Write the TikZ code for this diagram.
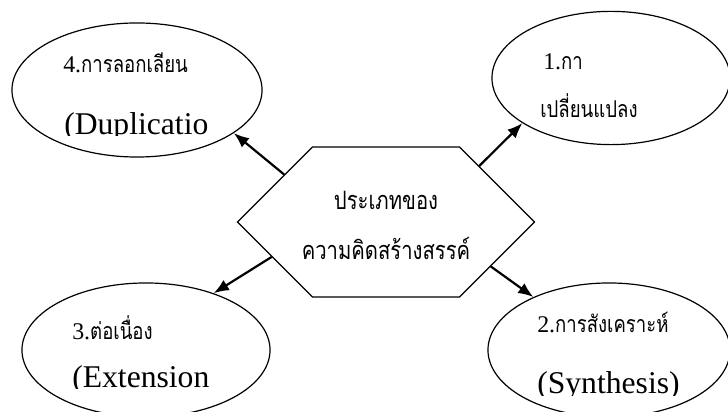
\documentclass[tikz,border=0pt]{standalone}
\usepackage{fontspec}
\setmainfont{Liberation Serif}
\newfontfamily\thaifont[Script=Thai,FakeStretch=0.8]{Loma}
\usetikzlibrary{shapes.geometric,shapes.symbols,arrows.meta}
\def\thai#1{{\thaifont\fontsize{16.5}{18}\selectfont #1}}

\tikzset{
  kind/.style={draw, ellipse, line width=0.3mm, minimum height=3.35cm, inner sep=0pt},
  core/.style={draw, signal, signal to=west and east, line width=0.3mm,
    minimum width=7.425cm, minimum height=3.75cm, inner sep=0pt},
  link/.style={line width=0.55mm, -{Latex[length=3.8mm,width=3mm]}},
  firstline/.style={anchor=base west, inner sep=0pt, font=\fontsize{17}{18}\selectfont},
  secondline/.style={anchor=base west, inner sep=0pt, font=\fontsize{22.5}{24}\selectfont},
  middleline/.style={anchor=base, inner sep=0pt, font=\thaifont\fontsize{18}{20}\selectfont},
}

\begin{document}
\begin{tikzpicture}[x=0.025cm,y=0.025cm]
		\useasboundingbox (0,0) rectangle (728,412);
		%%%%% START %%%%%
		
		\node[kind, minimum width=6.25cm] (dup) at (137,322) {};
		\node[kind, minimum width=5.95cm, minimum height=3.33cm] (change) at (611,334) {};
		\node[kind, minimum width=6.2cm] (ext) at (146,62) {};
		\node[kind, minimum width=6.05cm] (syn) at (609,62) {};
		
		\node[core] (types) at (386,190) {};
		\node[middleline] (typesA) at (386,202) {ประเภทของ};
		\node[middleline] (typesB) at (386,152) {ความคิดสร้างสรรค์};
		
		\node[firstline] (dupA) at (63,339) {4.\thai{การลอกเลียน}};
		\begin{scope}
			\clip (40,276) rectangle (260,330);
			\node[secondline] (dupB) at (64,277) {(Duplicatio};
		\end{scope}
		
		\node[firstline] (changeA) at (543,342) {1.\thai{กา}};
		\node[firstline] (changeB) at (540,294) {\thai{เปลี่ยนแปลง}};
		
		\node[firstline] (extA) at (72,72) {3.\thai{ต่อเนื่อง}};
		\begin{scope}
			\clip (40,23) rectangle (260,60);
			\node[secondline] (extB) at (72,24) {(Extension};
		\end{scope}
		
		\node[firstline] (synA) at (537,79) {2.\thai{การสังเคราะห์}};
		\begin{scope}
			\clip (500,16) rectangle (720,60);
			\node[secondline] (synB) at (537,18) {(Synthesis)};
		\end{scope}
		
		\draw[link] (types.155) -- (dup.336);
		\draw[link] (types.31) -- (change.207);
		\draw[link] (types.197) -- (ext.40);
		\draw[link] (types.337) -- (syn.145);
		
		%%%%% END %%%%%
\end{tikzpicture}
\end{document}
